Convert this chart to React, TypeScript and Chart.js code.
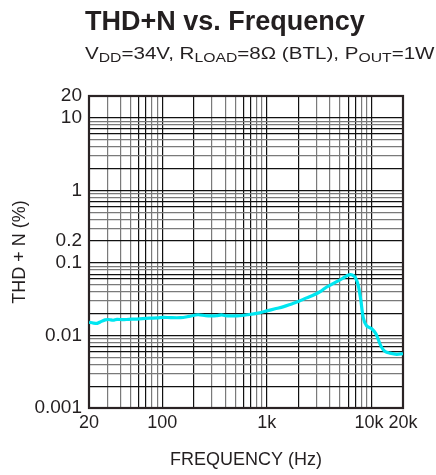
import React, { useEffect, useRef } from 'react';
import { Chart, registerables } from 'chart.js';

Chart.register(...registerables);

// ---- Data ----
const freqHz = [
  20, 22, 24, 26, 28.5, 31, 34, 37, 42, 48, 55, 65, 75, 90, 103, 120, 150, 180, 220, 260,
  300, 330, 370, 400, 470, 550, 650, 800, 1000, 1200, 1450, 1700, 2000, 2400, 2800, 3300,
  3700, 4200, 4650, 5300, 5800, 6300, 6800, 7200, 7500, 7900, 8350, 9000, 10000, 11000,
  11600, 12400, 13500, 15000, 17400, 20000,
];
const thdPct = [
  0.0152, 0.0148, 0.0147, 0.0155, 0.0164, 0.0166, 0.0162, 0.0167, 0.0165, 0.0167, 0.0168,
  0.0171, 0.0173, 0.0175, 0.0178, 0.0176, 0.0176, 0.0183, 0.0193, 0.0187, 0.0186, 0.0187,
  0.0192, 0.0187, 0.0186, 0.0187, 0.0193, 0.0202, 0.0218, 0.0233, 0.025, 0.027, 0.0293,
  0.033, 0.0362, 0.041, 0.0462, 0.051, 0.0552, 0.0612, 0.0662, 0.069, 0.066, 0.058, 0.048,
  0.031, 0.0175, 0.0135, 0.0125, 0.0106, 0.0088, 0.007, 0.006, 0.0057, 0.0055, 0.0056,
];

const xTickValues = [
  20, 30, 40, 50, 60, 70, 80, 90, 100, 200, 300, 400, 500, 600, 700, 800, 900,
  1000, 2000, 3000, 4000, 5000, 6000, 7000, 8000, 9000, 10000, 20000,
];
const xTickLabels = [
  '20', '', '', '', '', '', '', '', '100', '', '', '', '', '', '', '', '',
  '1k', '', '', '', '', '', '', '', '', '10k ', '20k',
];

const yTickValues = [
  0.001, 0.002, 0.003, 0.004, 0.005, 0.006, 0.007, 0.008, 0.009,
  0.01, 0.02, 0.03, 0.04, 0.05, 0.06, 0.07, 0.08, 0.09,
  0.1, 0.2, 0.3, 0.4, 0.5, 0.6, 0.7, 0.8, 0.9,
  1, 2, 3, 4, 5, 6, 7, 8, 9,
  10, 20,
];
const yTickLabels = [
  '0.001', '', '', '', '', '', '', '', '',
  '0.01', '', '', '', '', '', '', '', '',
  '0.1', '0.2', '', '', '', '', '', '', '',
  '1', '', '', '', '', '', '', '', '',
  '10', '20',
];

const FONT = '"Liberation Sans", Arial, Helvetica, sans-serif';
const TEXT = '#231f20';
const GRID_DARK = '#111111';
const GRID_GRAY = '#7a7a7a';
const CURVE = '#00e6f0';

function gridColor(value: number | undefined): string {
  if (value === undefined || value <= 0) return GRID_GRAY;
  const m = Math.round(value / Math.pow(10, Math.floor(Math.log10(value) + 1e-9)));
  return m === 1 || m === 2 || m === 6 || m === 7 ? GRID_DARK : GRID_GRAY;
}

const framePlugin = {
  id: 'frame',
  beforeDatasetsDraw(chart: any) {
    const { ctx, chartArea } = chart;
    ctx.save();
    ctx.strokeStyle = '#2a2324';
    ctx.lineWidth = 2.2;
    ctx.strokeRect(chartArea.left, chartArea.top, chartArea.right - chartArea.left, chartArea.bottom - chartArea.top);
    ctx.restore();
  },
};

export default function App() {
  const canvasRef = useRef<HTMLCanvasElement | null>(null);

  useEffect(() => {
    if (!canvasRef.current) return;
    const points = freqHz.map((f, i) => ({ x: f, y: thdPct[i] }));
    const chart = new Chart(canvasRef.current, {
      type: 'line',
      data: {
        datasets: [
          {
            data: points,
            borderColor: CURVE,
            borderWidth: 3.2,
            pointRadius: 0,
            tension: 0.3,
            fill: false,
          },
        ],
      },
      options: {
        animation: false,
        responsive: false,
        maintainAspectRatio: false,
        events: [],
        layout: { padding: { top: 96, right: 33, bottom: 0, left: 0 } },
        plugins: { legend: { display: false }, tooltip: { enabled: false }, title: { display: false } },
        scales: {
          x: {
            type: 'logarithmic',
            min: 20,
            max: 20000,
            afterBuildTicks: (scale: any) => {
              scale.ticks = xTickValues.map((v) => ({ value: v }));
            },
            afterFit: (scale: any) => {
              scale.height = 67;
            },
            ticks: {
              autoSkip: false,
              maxRotation: 0,
              minRotation: 0,
              padding: 4,
              color: TEXT,
              font: { family: FONT, size: 18 },
              callback: (_v: any, i: number) => xTickLabels[i],
            },
            grid: {
              drawTicks: false,
              lineWidth: 1.2,
              color: (ctx: any) => gridColor(ctx.tick && ctx.tick.value),
            },
            border: { display: false },
            title: {
              display: true,
              text: 'FREQUENCY (Hz)',
              color: TEXT,
              font: { family: FONT, size: 18 },
              padding: { top: 0, bottom: 4 },
            },
          },
          y: {
            type: 'logarithmic',
            min: 0.001,
            max: 20,
            afterBuildTicks: (scale: any) => {
              scale.ticks = yTickValues.map((v) => ({ value: v }));
            },
            afterFit: (scale: any) => {
              scale.width = 89;
            },
            ticks: {
              autoSkip: false,
              padding: 7,
              color: TEXT,
              font: { family: FONT, size: 19 },
              callback: (_v: any, i: number) => yTickLabels[i],
            },
            grid: {
              drawTicks: false,
              lineWidth: 1.2,
              color: (ctx: any) => gridColor(ctx.tick && ctx.tick.value),
            },
            border: { display: false },
            title: {
              display: true,
              text: 'THD + N (%)',
              color: TEXT,
              font: { family: FONT, size: 18 },
              padding: { top: 9, bottom: 0 },
            },
          },
        },
      },
      plugins: [framePlugin],
    });
    return () => chart.destroy();
  }, []);

  const sub: React.CSSProperties = { fontSize: '13px', position: 'relative', top: '3px' };

  return (
    <div style={{ position: 'fixed', left: 0, top: 0, width: 436, height: 475, background: '#fff', overflow: 'hidden' }}>
      <canvas ref={canvasRef} width={436} height={475} style={{ position: 'absolute', left: 0, top: 0, width: 436, height: 475 }} />
      <div
        style={{
          position: 'absolute', left: 85, top: 8, fontFamily: FONT, fontWeight: 'bold', fontSize: '27px',
          lineHeight: '27px', color: TEXT, whiteSpace: 'nowrap',
        }}
      >
        THD+N vs. Frequency
      </div>
      <div
        style={{
          position: 'absolute', left: 85, top: 45, fontFamily: FONT, fontSize: '17px', lineHeight: '17px',
          color: TEXT, whiteSpace: 'nowrap', transform: 'scaleX(1.21)', transformOrigin: 'left center',
        }}
      >
        V<span style={sub}>DD</span>=34V, R<span style={sub}>LOAD</span>=8Ω (BTL), P<span style={sub}>OUT</span>=1W
      </div>
    </div>
  );
}
